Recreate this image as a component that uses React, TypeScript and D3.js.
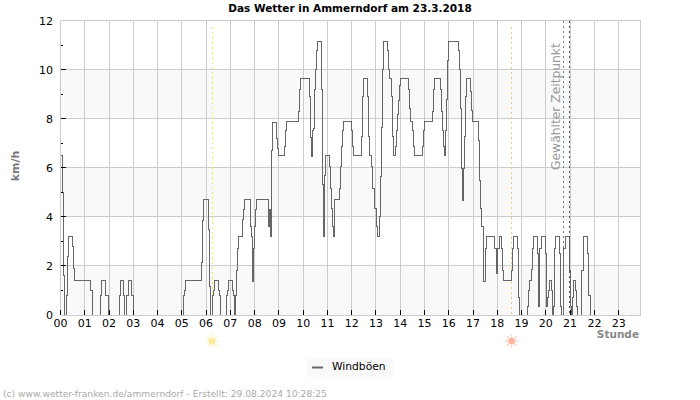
import React from "react";
import * as d3 from "d3";

const WIDTH = 700;
const HEIGHT = 400;
const FONT = "'DejaVu Sans', sans-serif";

const hourTicks = d3.range(0, 24);
const speedTicks = d3.range(0, 13, 2);
const minorTicks = d3.range(1, 12, 2);
const bands = [[0, 2], [4, 6], [8, 10]];

const sunrise = 6.25;
const sunset = 18.59;
const selectedTimes = [20.73, 20.98];

// Windboeen: hour of each change and the value from then on
const gustHours = [
  0, 0.07, 0.12, 0.16, 0.24, 0.28, 0.32, 0.49, 0.52, 0.57, 1.23, 1.3, 1.64, 1.71, 1.87, 1.96,
  2.42, 2.49, 2.59, 2.65, 2.74, 2.82, 2.92, 2.99, 5.06, 5.12, 5.16, 5.81, 5.85, 5.9, 6.1, 6.15,
  6.19, 6.26, 6.3, 6.36, 6.53, 6.57, 6.61, 6.84, 6.88, 6.92, 7.09, 7.13, 7.17, 7.21, 7.25, 7.3,
  7.34, 7.5, 7.53, 7.58, 7.82, 7.86, 7.91, 7.95, 7.99, 8.03, 8.07, 8.57, 8.61, 8.65, 8.69, 8.73,
  8.9, 8.94, 8.98, 9.23, 9.27, 9.31, 9.81, 9.85, 9.89, 10.26, 10.3, 10.35, 10.39, 10.43, 10.46, 10.5,
  10.54, 10.58, 10.75, 10.79, 10.83, 10.87, 10.92, 11.08, 11.12, 11.16, 11.21, 11.25, 11.29, 11.49, 11.54, 11.58,
  11.62, 11.66, 11.99, 12.03, 12.07, 12.41, 12.45, 12.49, 12.65, 12.69, 12.73, 12.82, 12.86, 12.94, 13.03, 13.07,
  13.15, 13.19, 13.24, 13.27, 13.32, 13.47, 13.51, 13.55, 13.64, 13.68, 13.72, 13.8, 13.84, 13.88, 13.92, 13.97,
  14.01, 14.34, 14.38, 14.42, 14.5, 14.55, 14.59, 14.92, 14.96, 15, 15.33, 15.38, 15.42, 15.66, 15.71, 15.75,
  15.79, 15.83, 15.87, 15.91, 15.95, 15.99, 16.41, 16.45, 16.49, 16.53, 16.57, 16.61, 16.65, 16.69, 16.73, 16.9,
  16.94, 16.98, 17.24, 17.28, 17.32, 17.36, 17.41, 17.45, 17.51, 17.56, 17.89, 17.97, 18.01, 18.09, 18.18, 18.22,
  18.26, 18.59, 18.63, 18.67, 18.84, 18.88, 18.92, 19.25, 19.3, 19.34, 19.42, 19.46, 19.49, 19.66, 19.7, 19.74,
  19.82, 19.99, 20.03, 20.07, 20.11, 20.15, 20.24, 20.28, 20.32, 20.36, 20.4, 20.57, 20.61, 20.65, 20.73, 20.82,
  20.98, 21.02, 21.06, 21.1, 21.15, 21.23, 21.27, 21.31, 21.48, 21.56, 21.73, 21.77, 21.85, 23.9,
];
const gustValues = [
  6.5, 5, 1.6, 0, 0.8, 2.4, 3.2, 2.8, 1.9, 1.4, 1, 0, 0.8, 1.4, 0.8, 0,
  0.8, 1.4, 0.8, 0, 0.8, 1.4, 0.8, 0, 0.8, 1, 1.4, 2.15, 3.85, 4.7, 3.5, 1.15,
  0, 0.8, 1, 1.4, 1, 0.8, 0, 0.8, 1, 1.4, 1, 0.8, 0, 0.8, 1.8, 2.7,
  3.2, 3.9, 4.3, 4.7, 3.6, 3.2, 1.35, 2.7, 3.6, 4.3, 4.7, 3.6, 4.3, 3.2, 6.7, 7.85,
  7.2, 6.8, 6.5, 6.85, 7.5, 7.87, 8.3, 9.2, 9.65, 8.9, 7.25, 6.45, 7.5, 7.6, 9.2, 10,
  10.77, 11.15, 9.18, 5.3, 3.2, 5.7, 6.5, 6.05, 5.14, 4.34, 3.6, 3.2, 4.7, 5.14, 6.05, 6.85,
  7.5, 7.87, 7.5, 6.85, 6.5, 7.27, 8.9, 9.65, 8.9, 7.27, 6.5, 6.05, 5.14, 4.34, 3.6, 3.2,
  4, 5.65, 7.65, 10, 11.15, 10.77, 10, 9.65, 8.9, 7.27, 6.5, 6.85, 7.5, 8.16, 8.76, 9.35,
  9.65, 9.2, 8.4, 7.87, 7.5, 6.85, 6.5, 6.85, 7.5, 7.87, 8.3, 9.2, 9.65, 9.2, 8.3, 7.5,
  6.85, 6.5, 7.5, 8.8, 10.35, 11.15, 10.77, 10, 8.4, 5.95, 4.66, 5.95, 7.27, 8.9, 9.65, 9.1,
  8.35, 7.87, 7.1, 5.5, 4.33, 3.6, 2.7, 1.35, 2.7, 3.2, 2.7, 1.7, 2.7, 3.2, 2.7, 1.8,
  1.4, 1.8, 2.7, 3.2, 2.7, 0.72, 0, 0.35, 1, 1.4, 1.85, 2.7, 3.2, 2.5, 0.35, 2.7,
  3.2, 2.5, 0.35, 0.72, 1, 1.4, 1, 0, 0.35, 2.7, 3.2, 2.5, 0.35, 0, 2.7, 3.2,
  1.8, 0.35, 0, 0.7, 1.4, 1, 0.35, 0, 1.8, 3.2, 2.5, 0.8, 0, 0,
];

const x = d3.scaleLinear().domain([0, 23.9]).range([60.5, 640.5]);
const y = d3.scaleLinear().domain([0, 12]).range([315, 20.5]);

const gustLine = d3
  .line<number>()
  .x((d) => x(d))
  .y((_, i) => y(gustValues[i]))
  .curve(d3.curveStepAfter);

function Sun({ cx, cy, fill }: { cx: number; cy: number; fill: string }) {
  return (
    <g transform={`translate(${cx},${cy})`} opacity={0.75}>
      {d3.range(0, 360, 45).map((a) => (
        <line key={a} x1={0} x2={0} y1={-4.5} y2={-6.5} transform={`rotate(${a})`} stroke={fill} strokeWidth={1} />
      ))}
      <circle r={3.6} fill={fill} />
    </g>
  );
}

export default function App() {
  return (
    <svg width={WIDTH} height={HEIGHT} style={{ position: "absolute", left: 0, top: 0 }} fontFamily={FONT}>
      <rect width={WIDTH} height={HEIGHT} fill="#fff" />
      {bands.map(([a, b]) => (
        <rect key={a} x={x(0)} width={x(23.9) - x(0)} y={y(b)} height={y(a) - y(b)} fill="#f9f9f9" />
      ))}
      <g stroke="#ccc" strokeWidth={1} shapeRendering="crispEdges">
        {speedTicks.map((t) => (
          <line key={t} x1={x(0)} x2={x(23.9)} y1={y(t)} y2={y(t)} />
        ))}
        {hourTicks.map((t) => (
          <line key={t} x1={x(t)} x2={x(t)} y1={y(12)} y2={y(0)} />
        ))}
        <line x1={x(23.9)} x2={x(23.9)} y1={y(12)} y2={y(0)} />
      </g>

      <g shapeRendering="crispEdges" strokeDasharray="2 3">
        <line x1={x(sunrise)} x2={x(sunrise)} y1={y(12) + 6} y2={y(0)} stroke="#f7e95a" />
        <line x1={x(sunset)} x2={x(sunset)} y1={y(12) + 6} y2={y(0)} stroke="#f0c77c" />
      </g>

      <path d={gustLine(gustHours) ?? undefined} fill="none" stroke="#666" strokeWidth={1} shapeRendering="crispEdges" />

      <g shapeRendering="crispEdges" strokeDasharray="2 3">
        {selectedTimes.map((t, i) => (
          <line key={t} x1={x(t)} x2={x(t)} y1={y(12)} y2={y(0)} stroke={i === 0 ? "#777" : "#555"} />
        ))}
      </g>
      <text transform="translate(560,170) rotate(-90)" fontSize={12.3} fill="#999">
        Gewählter Zeitpunkt
      </text>

      <g shapeRendering="crispEdges">
        <line x1={x(0)} x2={x(23.9)} y1={y(0)} y2={y(0)} stroke="#ccc" />
        {hourTicks.map((t) => (
          <line key={t} x1={x(t)} x2={x(t)} y1={y(0) - 5} y2={y(0)} stroke="#000" />
        ))}
        {speedTicks.slice(1, -1).map((t) => (
          <line key={t} x1={x(0)} x2={x(0) + 5} y1={y(t)} y2={y(t)} stroke="#000" />
        ))}
        {minorTicks.map((t) => (
          <line key={t} x1={x(0)} x2={x(0) + 2.5} y1={y(t)} y2={y(t)} stroke="#000" />
        ))}
      </g>
      {hourTicks.map((t) => (
        <text key={t} x={x(t)} y={327} textAnchor="middle" fontSize={11} fill="#000">
          {String(t).padStart(2, "0")}
        </text>
      ))}
      {speedTicks.map((t) => (
        <text key={t} x={53} y={y(t) + 4} textAnchor="end" fontSize={11} fill="#000">
          {t}
        </text>
      ))}

      <text x={350} y={12} textAnchor="middle" fontSize={10.5} fontWeight="bold" fill="#000">
        Das Wetter in Ammerndorf am 23.3.2018
      </text>
      <text transform="translate(19,166) rotate(-90)" textAnchor="middle" fontSize={11} fontWeight="bold" fill="#777">
        km/h
      </text>
      <text x={639} y={338} textAnchor="end" fontSize={10.5} fontWeight="bold" fill="#888">
        Stunde
      </text>

      <Sun cx={x(sunrise)} cy={341} fill="#ffe27a" />
      <Sun cx={x(sunset)} cy={341} fill="#ff9f80" />

      <rect x={307} y={358} width={87} height={19} fill="#f9f9f9" />
      <line x1={312} x2={323} y1={367.5} y2={367.5} stroke="#666" strokeWidth={2} />
      <text x={332} y={370} fontSize={10.7} fill="#000">
        Windböen
      </text>

      <text x={3} y={397} fontSize={9.15} fill="#aaa">
        (c) www.wetter-franken.de/ammerndorf - Erstellt: 29.08.2024 10:28:25
      </text>
    </svg>
  );
}
